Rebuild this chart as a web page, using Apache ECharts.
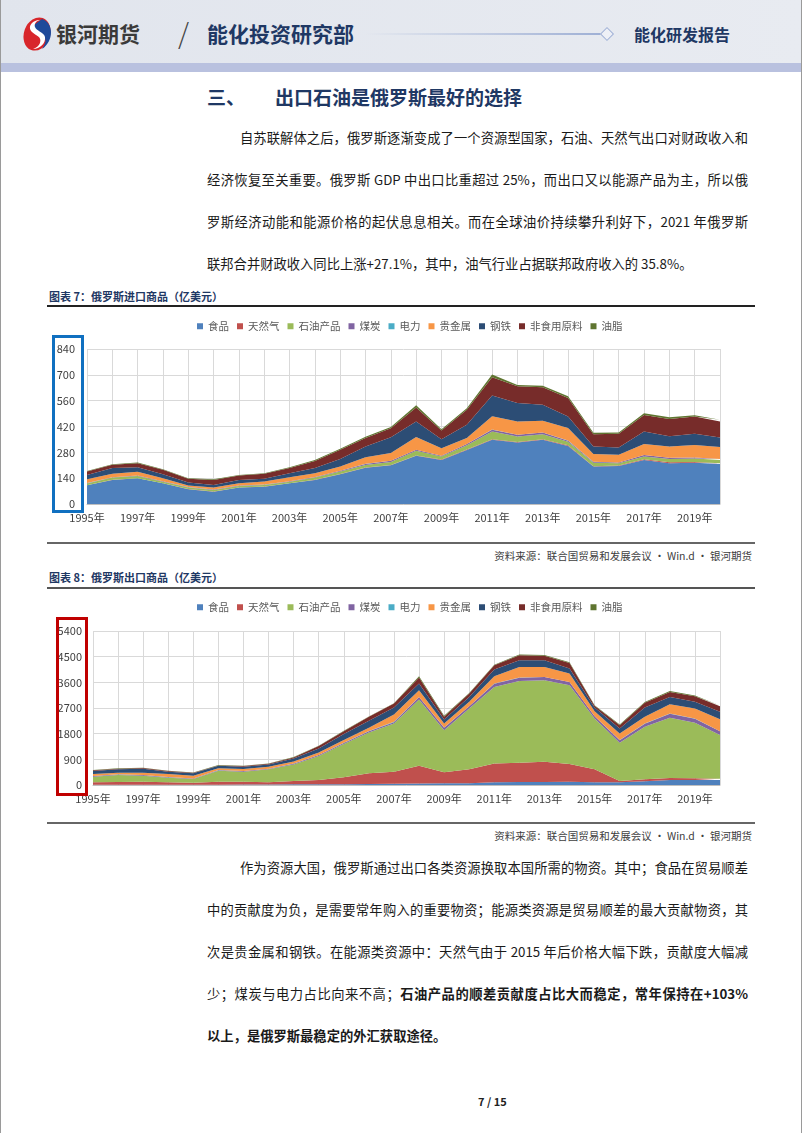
<!DOCTYPE html>
<html><head><meta charset="utf-8">
<script src="https://cdn.jsdelivr.net/npm/echarts@6/dist/echarts.min.js"></script>
<style>
body{margin:0;background:#fff;}
#page{position:relative;width:802px;height:1133px;background:#fff;overflow:hidden;font-family:"Noto Sans CJK SC",sans-serif;}
.abs{position:absolute;white-space:nowrap;}
.p{position:absolute;left:207px;width:541px;font-size:13.3px;color:#1a1a1a;line-height:20px;white-space:nowrap;text-align:justify;text-align-last:justify;}
.pl{text-align:left;text-align-last:left;}
.ct{position:absolute;left:49px;font-size:11px;font-weight:bold;color:#1f3864;line-height:14px;white-space:nowrap;}
.src{position:absolute;right:50px;font-size:10.5px;color:#404040;line-height:14px;white-space:nowrap;}
.hl{position:absolute;left:47px;width:708px;}
</style></head>
<body>
<div id="page">
  <!-- header -->
  <div class="abs" style="left:0;top:0;width:802px;height:63px;background:linear-gradient(90deg,#e1e5ed,#e8ebf1);"></div>
  <div class="abs" style="left:0;top:63px;width:802px;height:9px;background:#b9c1df;"></div>
  <div class="abs" style="left:0;top:0;width:1px;height:1133px;background:#9a9a9a;"></div>
  <div class="abs" style="left:801px;top:0;width:1px;height:1133px;background:#9a9a9a;"></div>
  <svg class="abs" style="left:20px;top:15px" width="34" height="38" viewBox="0 0 34 38">
    <ellipse cx="17" cy="19" rx="13" ry="17" transform="rotate(20 17 19)" fill="#d8262b"/>
    <path d="M22 4 C34 8 34 26 22 34 C28 26 26 20 18 19 C12 18 10 14 14 10 Z" fill="#1f4a9a"/>
    <path d="M20 5 C12 5 7 12 12 17 C16 21 22 21 20 28 C19 31 16 33 13 34 C20 34 26 28 25 22 C24 17 16 16 15 12 C14 9 16 6 20 5 Z" fill="#fff"/>
  </svg>
  <div class="abs" style="left:56px;top:19px;font-size:21px;font-weight:bold;color:#3a3a3a;line-height:28px;">银河期货</div>
  <div class="abs" style="left:178px;top:14px;font-size:28px;color:#444;line-height:36px;font-weight:300;">/</div>
  <div class="abs" style="left:207px;top:19px;font-size:21px;font-weight:bold;color:#1f3864;line-height:28px;">能化投资研究部</div>
  <div class="abs" style="left:365px;top:33px;width:236px;height:2px;background:linear-gradient(90deg,rgba(160,176,213,0),#9fb0d5);"></div>
  <div class="abs" style="left:602px;top:29px;width:8px;height:8px;border:1px solid #9fb0d5;background:#eef0f6;transform:rotate(45deg);"></div>
  <div class="abs" style="left:634px;top:23px;font-size:16px;font-weight:bold;color:#1f3864;line-height:22px;">能化研发报告</div>

  <!-- heading + paragraph -->
  <div class="abs" style="left:207px;top:85px;font-size:19px;font-weight:bold;color:#1f3864;line-height:24px;">三、</div>
  <div class="abs" style="left:275px;top:85px;font-size:19px;font-weight:bold;color:#1f3864;line-height:24px;">出口石油是俄罗斯最好的选择</div>
  <div class="p" style="top:128px;left:240px;width:508px;">自苏联解体之后，俄罗斯逐渐变成了一个资源型国家，石油、天然气出口对财政收入和</div>
  <div class="p" style="top:170px;">经济恢复至关重要。俄罗斯 GDP 中出口比重超过 25%，而出口又以能源产品为主，所以俄</div>
  <div class="p" style="top:212px;">罗斯经济动能和能源价格的起伏息息相关。而在全球油价持续攀升利好下，2021 年俄罗斯</div>
  <div class="p pl" style="top:254px;">联邦合并财政收入同比上涨+27.1%，其中，油气行业占据联邦政府收入的 35.8%。</div>

  <!-- chart 1 frame -->
  <div class="ct" style="top:289px;">图表 7：俄罗斯进口商品（亿美元）</div>
  <div class="hl" style="top:305px;height:2px;background:#222;"></div>
  <div id="c1" class="abs" style="left:40px;top:310px;width:720px;height:232px;"></div>
  <div class="abs" style="left:52px;top:335px;width:26px;height:172px;border:3px solid #1070c0;"></div>
  <div class="hl" style="top:542px;height:2px;background:#666;"></div>
  <div class="src" style="top:549px;">资料来源：联合国贸易和发展会议 · Win.d · 银河期货</div>

  <!-- chart 2 frame -->
  <div class="ct" style="top:570px;">图表 8：俄罗斯出口商品（亿美元）</div>
  <div class="hl" style="top:587px;height:2px;background:#555;"></div>
  <div id="c2" class="abs" style="left:40px;top:590px;width:720px;height:232px;"></div>
  <div class="abs" style="left:56px;top:617px;width:26px;height:173px;border:3px solid #c00000;"></div>
  <div class="hl" style="top:822px;height:2px;background:#666;"></div>
  <div class="src" style="top:829px;">资料来源：联合国贸易和发展会议 · Win.d · 银河期货</div>

  <!-- paragraph 2 -->
  <div class="p" style="top:858px;left:240px;width:508px;">作为资源大国，俄罗斯通过出口各类资源换取本国所需的物资。其中；食品在贸易顺差</div>
  <div class="p" style="top:900px;">中的贡献度为负，是需要常年购入的重要物资；能源类资源是贸易顺差的最大贡献物资，其</div>
  <div class="p" style="top:942px;">次是贵金属和钢铁。在能源类资源中：天然气由于 2015 年后价格大幅下跌，贡献度大幅减</div>
  <div class="p" style="top:984px;">少；煤炭与电力占比向来不高；<b>石油产品的顺差贡献度占比大而稳定，常年保持在+103%</b></div>
  <div class="p pl" style="top:1026px;"><b>以上，是俄罗斯最稳定的外汇获取途径。</b></div>

  <div class="abs" style="left:478px;top:1094px;font-size:11px;font-weight:bold;color:#222;line-height:14px;">7 / 15</div>
</div>
<script>
// ---- data ----
const years = ['1995年','1996年','1997年','1998年','1999年','2000年','2001年','2002年','2003年','2004年','2005年','2006年','2007年','2008年','2009年','2010年','2011年','2012年','2013年','2014年','2015年','2016年','2017年','2018年','2019年','2020年'];
const seriesNames = ['食品','天然气','石油产品','煤炭','电力','贵金属','钢铁','非食用原料','油脂'];
const seriesColors = ['#4F81BD','#C0504D','#9BBB59','#8064A2','#4BACC6','#F79646','#2C4D75','#772C2A','#5F7530'];

// imports (亿美元)
const impFood    = [101,130,139,112,80,67,89,94,112,130,161,197,210,261,239,293,348,333,348,315,203,206,239,221,224,217];
const impGas     = [1,1,1,1,1,1,1,1,1,1,1,1,2,2,2,2,3,3,3,3,2,2,4,5,4,4];
const impOil     = [9,12,12,8,8,8,8,8,8,12,14,14,16,25,16,24,42,30,27,20,19,13,14,18,18,18];
const impCoal    = [2,2,2,2,2,2,2,2,2,3,4,5,6,6,4,6,10,9,9,5,4,4,8,6,6,5];
const impElec    = [0.5,0.5,0.5,0.5,0.5,0.5,0.5,0.5,0.5,0.5,0.5,0.5,0.5,0.5,0.5,0.5,0.5,0.5,0.5,0.5,0.5,0.5,0.5,0.5,0.5,0.5];
const impPrec    = [20,18,20,16,9,11,12,16,22,20,23,36,42,68,41,32,72,72,64,68,42,41,60,61,67,64];
const impSteel   = [23,31,25,22,16,14,18,15,21,28,41,58,85,85,49,72,112,100,87,63,41,40,67,55,61,52];
const impNonfood = [19,18,22,24,20,27,24,27,28,39,49,46,49,76,47,81,100,90,94,100,67,74,90,94,94,87];
const impFats    = [3,3,3,3,3,3,3,3,4,5,6,7,7,11,7,9,14,7,9,9,8,7,9,9,7,9];

// exports (亿美元)
const expFood    = [10,12,12,10,9,10,14,20,22,22,30,35,45,50,58,58,93,105,105,117,93,93,128,175,175,175];
const expGas     = [83,93,105,83,73,107,103,73,118,153,238,373,421,626,385,490,665,676,711,618,455,47,70,70,58,47];
const expOil     = [199,245,209,163,128,384,349,455,583,839,1166,1434,1691,2321,1481,2134,2682,2869,2857,2763,1784,1341,1842,2110,1947,1527];
const expCoal    = [20,20,22,18,15,20,22,22,25,35,40,45,47,85,85,75,110,110,111,111,76,87,111,146,146,134];
const expElec    = [3,3,3,3,3,4,4,4,5,6,8,10,10,8,8,6,6,6,6,6,6,6,6,6,6,6];
const expPrec    = [70,58,80,108,98,58,68,67,75,88,92,109,258,233,140,152,257,373,349,291,175,233,233,326,350,420];
const expSteel   = [105,117,140,81,82,93,81,82,105,140,210,244,245,233,140,175,233,234,234,175,128,175,327,257,233,256];
const expNonfood = [23,23,24,24,23,12,24,23,35,81,105,140,140,210,93,117,152,174,163,198,58,117,163,175,198,198];
const expFats    = [12,12,11,10,9,12,10,9,12,11,11,10,13,47,35,23,22,33,24,21,23,21,30,35,27,27];

const impAxis = {min:0, max:840, interval:140};
const expAxis = {min:0, max:5400, interval:900};

const FONT = '"Noto Sans CJK SC", sans-serif';

function makeOption(dataSets, axis, grid, legendTop, labelMargin){
  return {
    animation:false,
    textStyle:{fontFamily:FONT},
    legend:{
      left:152, top:legendTop, icon:'rect', itemWidth:6, itemHeight:6, itemGap:8,
      textStyle:{fontSize:10.5, color:'#595959', fontFamily:FONT},
      data:seriesNames
    },
    grid:grid,
    xAxis:{
      type:'category', boundaryGap:false, data:years,
      axisLine:{show:true, lineStyle:{color:'#bfbfbf', width:1}},
      axisTick:{show:false},
      axisLabel:{interval:1, fontSize:11, color:'#404040', margin:8, fontFamily:FONT},
      splitLine:{show:true, interval:0, lineStyle:{color:'#d9d9d9', width:1}}
    },
    yAxis:{
      type:'value', min:axis.min, max:axis.max, interval:axis.interval,
      axisLine:{show:false}, axisTick:{show:false},
      axisLabel:{fontSize:11, color:'#404040', margin:labelMargin, fontFamily:FONT, formatter:v=>String(v)},
      splitLine:{show:true, lineStyle:{color:'#d9d9d9', width:1}}
    },
    series: dataSets.map((d,i)=>({
      name:seriesNames[i], type:'line', stack:'total', data:d,
      symbol:'none', lineStyle:{width:0}, itemStyle:{color:seriesColors[i]},
      areaStyle:{color:seriesColors[i], opacity:1}
    }))
  };
}

const c1 = echarts.init(document.getElementById('c1'), null, {renderer:'canvas'});
c1.setOption(makeOption(
  [impFood,impGas,impOil,impCoal,impElec,impPrec,impSteel,impNonfood,impFats],
  impAxis, {left:47, right:40, top:39, bottom:38}, 6, 12));

const c2 = echarts.init(document.getElementById('c2'), null, {renderer:'canvas'});
c2.setOption(makeOption(
  [expFood,expGas,expOil,expCoal,expElec,expPrec,expSteel,expNonfood,expFats],
  expAxis, {left:53, right:40, top:41, bottom:37}, 7, 11));
</script>
</body></html>
